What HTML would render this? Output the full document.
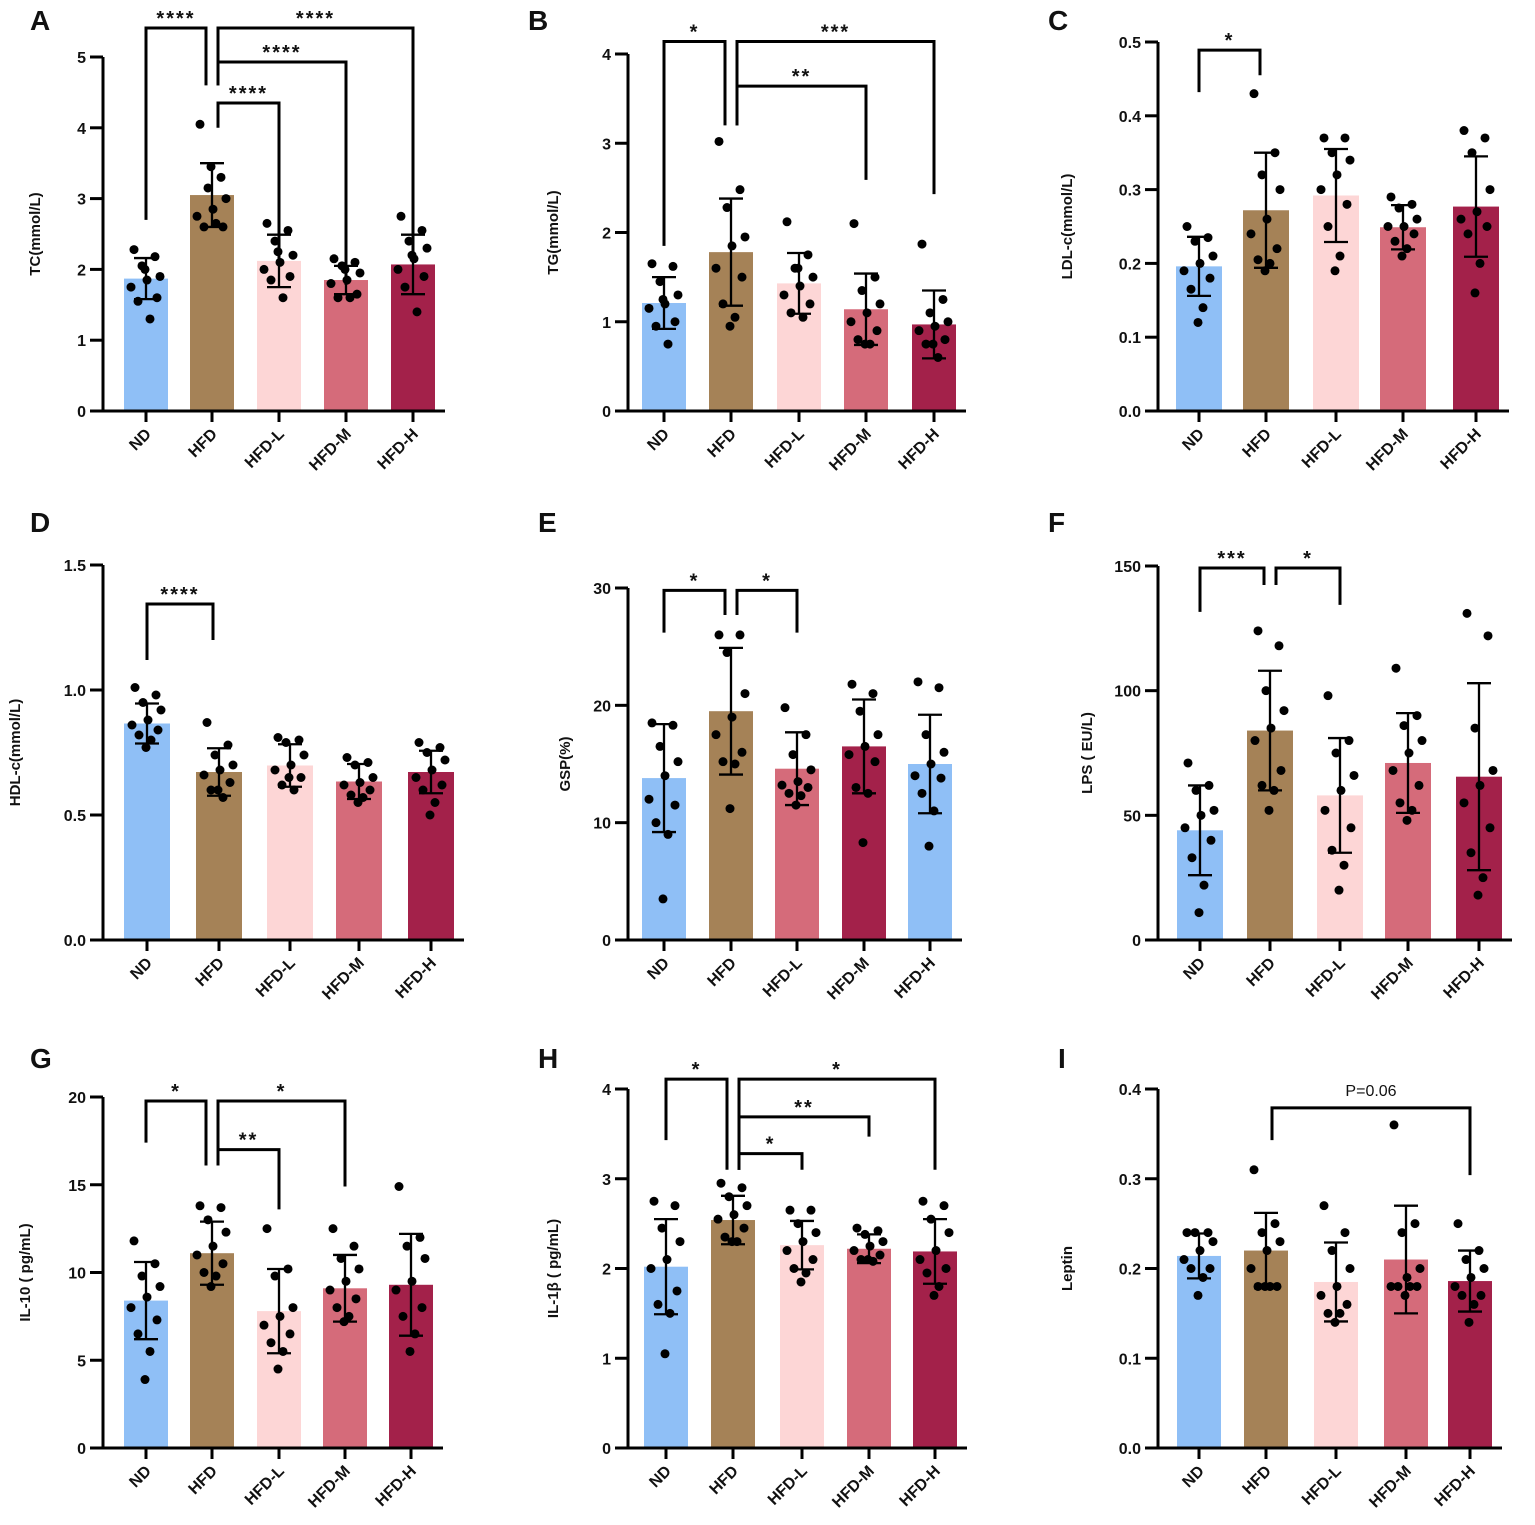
<!DOCTYPE html>
<html><head><meta charset="utf-8">
<style>
html,body{margin:0;padding:0;background:#fff;}
svg{display:block;font-family:"Liberation Sans",Arial,sans-serif;}
</style></head>
<body>
<svg id="chart" width="1535" height="1525" viewBox="0 0 1535 1525" xmlns="http://www.w3.org/2000/svg"></svg>
<script>
const groups = ["ND","HFD","HFD-L","HFD-M","HFD-H"];
// A TC
const tcMeans=[1.87,3.05,2.12,1.85,2.07];
const tcSd=[0.29,0.45,0.37,0.2,0.42];
const tcPts=[[2.28,2.18,2.05,1.9,1.85,1.75,1.6,1.55,1.3,2.0],[4.05,3.3,3.15,3.0,2.85,2.75,2.6,2.6,2.65,3.45],[2.65,2.55,2.4,2.2,2.1,2.0,1.9,1.85,1.6,2.25],[2.15,2.1,2.05,1.95,1.85,1.8,1.65,1.6,1.6,2.0],[2.75,2.55,2.4,2.3,2.15,2.0,1.9,1.75,1.4,2.2]];
const tcBrackets=[[0,1,5.41,2.7,4.6,"****"],[1,4,5.41,4.6,2.17,"****"],[1,3,4.93,4.6,1.78,"****"],[1,2,4.35,4.0,2.09,"****"]];
// B TG
const tgMeans=[1.21,1.78,1.43,1.14,0.97];
const tgSd=[0.29,0.6,0.34,0.4,0.38];
const tgPts=[[1.65,1.62,1.45,1.3,1.2,1.15,1.0,0.95,0.75,1.25],[3.02,2.48,2.28,1.95,1.85,1.6,1.5,1.2,1.05,0.95],[2.12,1.75,1.6,1.5,1.4,1.3,1.2,1.1,1.05,1.6],[2.1,1.5,1.35,1.2,1.1,1.0,0.9,0.8,0.75,0.75],[1.87,1.25,1.1,1.0,0.95,0.9,0.8,0.75,0.6,0.75]];
const tgBrackets=[[0,1,4.14,1.85,3.2,"*"],[1,4,4.14,3.2,2.43,"***"],[1,3,3.64,3.2,2.59,"**"]];
// C LDL
const ldlMeans=[0.196,0.272,0.292,0.249,0.277];
const ldlSd=[0.04,0.078,0.063,0.03,0.068];
const ldlPts=[[0.25,0.235,0.23,0.21,0.2,0.19,0.18,0.165,0.14,0.12],[0.43,0.35,0.32,0.3,0.26,0.24,0.22,0.205,0.2,0.19],[0.37,0.37,0.35,0.34,0.32,0.3,0.28,0.25,0.21,0.19],[0.29,0.28,0.275,0.26,0.25,0.25,0.24,0.23,0.22,0.21],[0.38,0.37,0.35,0.3,0.27,0.26,0.25,0.24,0.2,0.16]];
const ldlBrackets=[[0,1,0.489,0.432,0.455,"*"]];
// D HDL
const hdlMeans=[0.866,0.672,0.698,0.634,0.672];
const hdlSd=[0.08,0.095,0.085,0.07,0.085];
const hdlPts=[[1.01,0.98,0.95,0.92,0.88,0.86,0.84,0.82,0.8,0.77],[0.87,0.78,0.74,0.7,0.68,0.66,0.63,0.6,0.57,0.6],[0.81,0.8,0.79,0.74,0.7,0.68,0.65,0.62,0.6,0.65],[0.73,0.71,0.7,0.65,0.63,0.62,0.6,0.58,0.57,0.55],[0.79,0.77,0.75,0.72,0.68,0.65,0.62,0.6,0.55,0.5]];
const hdlBrackets=[[0,1,1.344,1.12,1.2,"****"]];
// E GSP
const gspMeans=[13.8,19.5,14.6,16.5,15.0];
const gspSd=[4.6,5.4,3.1,4.0,4.2];
const gspPts=[[18.5,18.3,16.5,15.2,14,12,11.5,10,9,3.5],[26,26,24.5,21,19,17.5,16,15.2,15,11.2],[19.8,17.5,15.8,14.5,13.5,13.2,13,12.5,12.3,11.5],[21.8,21,19.5,17.5,16.5,15.8,15.2,13,12.5,8.3],[22,21.5,17.5,16,15,14,13.8,12.5,11,8]];
const gspBrackets=[[0,1,29.8,26.2,27.7,"*"],[1,2,29.8,27.7,26.2,"*"]];
// F LPS
const lpsMeans=[44,84,58,71,65.5];
const lpsSd=[18,24,23,20,37.5];
const lpsPts=[[71,62,60,52,50,45,40,33,22,11],[124,118,100,92,85,80,68,62,60,52],[98,80,75,66,60,52,45,36,30,20],[109,90,86,80,75,68,62,55,52,48],[131,122,85,68,62,55,45,35,25,18]];
const lpsBrackets=[[0,1,149.2,131.6,142.4,"***"],[1,2,149.2,142.4,134.4,"*"]];
// G IL-10
const il10Means=[8.4,11.1,7.8,9.1,9.3];
const il10Sd=[2.2,1.8,2.4,1.9,2.9];
const il10Pts=[[11.8,10.5,9.8,9.2,8.6,8,7.3,6.5,5.5,3.9],[13.8,13.7,13,12.3,11.5,11,10.5,10,9.8,9.2],[12.5,10.2,9.8,8,7.5,7,6.5,6,5.5,4.5],[12.5,11.5,10.8,10.2,9.5,9,8.5,8,7.5,7.2],[14.9,12,11.5,10.8,9.5,9,8,7.5,6.5,5.5]];
const il10Brackets=[[0,1,19.77,17.4,16.1,"*"],[1,3,19.77,16.1,14.9,"*"],[1,2,17.0,16.1,13.6,"**"]];
// H IL-1b
const il1bMeans=[2.02,2.54,2.26,2.22,2.19];
const il1bSd=[0.53,0.27,0.27,0.16,0.36];
const il1bPts=[[2.75,2.7,2.45,2.3,2.1,2.0,1.75,1.6,1.5,1.05],[2.95,2.9,2.8,2.7,2.6,2.55,2.45,2.35,2.3,2.3],[2.65,2.65,2.5,2.4,2.3,2.2,2.1,2.0,1.95,1.85],[2.45,2.42,2.38,2.3,2.25,2.2,2.15,2.1,2.08,2.1],[2.75,2.7,2.55,2.4,2.2,2.1,2.0,1.95,1.8,1.7]];
const il1bBrackets=[[0,1,4.11,3.43,3.1,"*"],[1,4,4.11,3.1,3.1,"*"],[1,3,3.69,3.1,3.47,"**"],[1,2,3.28,3.1,3.1,"*"]];
// I Leptin
const lepMeans=[0.214,0.22,0.185,0.21,0.186];
const lepSd=[0.025,0.042,0.044,0.06,0.034];
const lepPts=[[0.24,0.24,0.24,0.23,0.22,0.21,0.2,0.2,0.19,0.17],[0.31,0.25,0.24,0.23,0.22,0.2,0.18,0.18,0.18,0.18],[0.27,0.24,0.22,0.2,0.18,0.17,0.16,0.15,0.15,0.14],[0.36,0.25,0.24,0.2,0.19,0.18,0.18,0.18,0.18,0.17],[0.25,0.22,0.21,0.2,0.19,0.18,0.17,0.17,0.16,0.14]];
const lepBrackets=[[1,4,0.379,0.343,0.304,"P=0.06"]];

const tcTicks=[0,1,2,3,4,5], tgTicks=[0,1,2,3,4], ldlTicks=[0,0.1,0.2,0.3,0.4,0.5], hdlTicks=[0,0.5,1.0,1.5], gspTicks=[0,10,20,30], lpsTicks=[0,50,100,150], il10Ticks=[0,5,10,15,20], il1bTicks=[0,1,2,3,4], lepTicks=[0,0.1,0.2,0.3,0.4];

const BLUE="#8fbff6",BROWN="#a58257",PINK="#fdd6d6",ROSE="#d56b7a",WINE="#a3214a";
const stdCols=[BLUE,BROWN,PINK,ROSE,WINE];
const panels=[
 {key:"a",letter:"A",lx:30,ly:30,ax:103,y0:411,yt:57,max:5,dec:0,ticks:tcTicks,cx:[146,212,279,346,413],bw:44,col:stdCols,yl:"TC(mmol/L)",ylx:40,m:tcMeans,s:tcSd,p:tcPts,b:tcBrackets},
 {key:"b",letter:"B",lx:528,ly:30,ax:628,y0:411,yt:54,max:4,dec:0,ticks:tgTicks,cx:[664,731,799,866,934],bw:44,col:stdCols,yl:"TG(mmol/L)",ylx:558,m:tgMeans,s:tgSd,p:tgPts,b:tgBrackets},
 {key:"c",letter:"C",lx:1048,ly:30,ax:1158,y0:411,yt:42,max:0.5,dec:1,ticks:ldlTicks,cx:[1199,1266,1336,1403,1476],bw:46,col:stdCols,yl:"LDL-c(mmol/L)",ylx:1072,m:ldlMeans,s:ldlSd,p:ldlPts,b:ldlBrackets},
 {key:"d",letter:"D",lx:30,ly:532,ax:103,y0:940,yt:565,max:1.5,dec:1,ticks:hdlTicks,cx:[147,219,290,359,431],bw:46,col:stdCols,yl:"HDL-c(mmol/L)",ylx:20,m:hdlMeans,s:hdlSd,p:hdlPts,b:hdlBrackets},
 {key:"e",letter:"E",lx:538,ly:532,ax:628,y0:940,yt:588,max:30,dec:0,ticks:gspTicks,cx:[664,731,797,864,930],bw:44,col:[BLUE,BROWN,ROSE,WINE,BLUE],yl:"GSP(%)",ylx:570,m:gspMeans,s:gspSd,p:gspPts,b:gspBrackets},
 {key:"f",letter:"F",lx:1048,ly:532,ax:1158,y0:940,yt:566,max:150,dec:0,ticks:lpsTicks,cx:[1200,1270,1340,1408,1479],bw:46,col:stdCols,yl:"LPS ( EU/L)",ylx:1092,m:lpsMeans,s:lpsSd,p:lpsPts,b:lpsBrackets},
 {key:"g",letter:"G",lx:30,ly:1068,ax:103,y0:1448,yt:1097,max:20,dec:0,ticks:il10Ticks,cx:[146,212,279,345,411],bw:44,col:stdCols,yl:"IL-10 ( pg/mL)",ylx:30,m:il10Means,s:il10Sd,p:il10Pts,b:il10Brackets},
 {key:"h",letter:"H",lx:538,ly:1068,ax:628,y0:1448,yt:1089,max:4,dec:0,ticks:il1bTicks,cx:[666,733,802,869,935],bw:44,col:stdCols,yl:"IL-1\u03b2 ( pg/mL)",ylx:558,m:il1bMeans,s:il1bSd,p:il1bPts,b:il1bBrackets},
 {key:"i",letter:"I",lx:1058,ly:1068,ax:1158,y0:1448,yt:1089,max:0.4,dec:1,ticks:lepTicks,cx:[1199,1266,1336,1406,1470],bw:44,col:stdCols,yl:"Leptin",ylx:1072,m:lepMeans,s:lepSd,p:lepPts,b:lepBrackets}
];
const jitter=[-12,9,-4,14,1,-15,11,-8,4,-1];
const NS="http://www.w3.org/2000/svg";
const svg=document.getElementById("chart");
function mk(tag,attrs,parent){const e=document.createElementNS(NS,tag);for(const k in attrs)e.setAttribute(k,attrs[k]);(parent||svg).appendChild(e);return e;}

panels.forEach(P=>{
  const g=mk("g",{});
  
  
  const y=v=>P.y0-(v/P.max)*(P.y0-P.yt);
  const L=mk("text",{x:P.lx,y:P.ly,"font-size":28,"font-weight":"bold",fill:"#111"},g);
  L.textContent=P.letter;
  
  
  P.m.forEach((v,i)=>{
    const r=mk("rect",{x:P.cx[i]-P.bw/2,y:y(v),width:P.bw,height:P.y0-y(v),fill:P.col[i]},g);
    
    
  });
  P.p.forEach((arr,i)=>{
    arr.forEach((v,k)=>{
      const c=mk("circle",{cx:P.cx[i]+jitter[k],cy:y(v),r:4.5,fill:"#000"},g);
      
      
    });
  });
  P.m.forEach((v,i)=>{
    const lo=y(Math.max(0,v-P.s[i])),hi=y(v+P.s[i]),x=P.cx[i];
    const e=mk("path",{d:`M${x},${lo}V${hi}M${x-12},${hi}H${x+12}M${x-12},${lo}H${x+12}`,stroke:"#000","stroke-width":2.3,fill:"none"},g);
    
    
  });
  const xEnd=P.cx[4]+P.bw/2+10;
  const ax=mk("path",{d:`M${P.ax},${P.yt}V${P.y0}H${xEnd}`,stroke:"#000","stroke-width":3,fill:"none"},g);
  
  
  P.ticks.forEach(t=>{
    const ty=y(t);
    const tk=mk("line",{x1:P.ax-13,x2:P.ax,y1:ty,y2:ty,stroke:"#000","stroke-width":3},g);
    
    
    const tl=mk("text",{x:P.ax-17,y:ty+6,"font-size":16,"font-weight":"bold","text-anchor":"end",fill:"#111"},g);
    tl.textContent=t.toFixed(P.dec);
    
    
  });
  P.cx.forEach((x,i)=>{
    const tk=mk("line",{x1:x,x2:x,y1:P.y0,y2:P.y0+11,stroke:"#000","stroke-width":3},g);
    
    
    const tl=mk("text",{x:x+6,y:P.y0+24,"font-size":16,"font-weight":"bold","text-anchor":"end",fill:"#111",transform:`rotate(-45 ${x+6} ${P.y0+24})`},g);
    tl.textContent=groups[i];
    
    
  });
  const my=(P.y0+P.yt)/2;
  const yl=mk("text",{x:P.ylx,y:my,"font-size":15,"font-weight":"bold","text-anchor":"middle",fill:"#111",transform:`rotate(-90 ${P.ylx} ${my})`},g);
  yl.textContent=P.yl;
  
  
  P.b.forEach(b=>{
    const x1=P.cx[b[0]]+(b[0]===1?6:0),x2=P.cx[b[1]]+(b[1]===1?-6:0);
    const top=y(b[2]);
    const br=mk("path",{d:`M${x1},${y(b[3])}V${top}H${x2}V${y(b[4])}`,stroke:"#000","stroke-width":3,fill:"none"},g);
    
    
    const isP=b[5].startsWith("P");
    const st=mk("text",{x:(x1+x2)/2,y:isP?top-12:top-3,"font-size":isP?16:20,"font-weight":isP?"normal":"bold","letter-spacing":isP?0:2,"text-anchor":"middle",fill:"#111"},g);
    st.textContent=b[5];
    
    
  });
});
</script>
</body></html>
